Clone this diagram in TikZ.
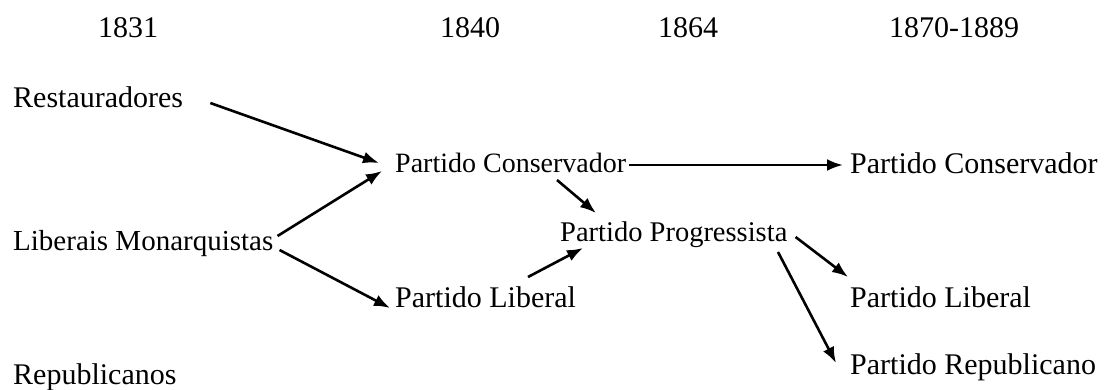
\documentclass[tikz,border=0pt]{standalone}
\usepackage{fontspec}
\setmainfont{Liberation Serif}
\usetikzlibrary{arrows.meta}

\begin{document}
\begin{tikzpicture}[
    x=1pt, y=-1pt,
    year/.style={
        inner sep=0pt,
        anchor=base,
        font=\fontsize{30}{32}\selectfont,
    },
    party/.style={
        inner sep=0pt,
        anchor=base west,
        font=\fontsize{#1}{32}\selectfont,
    },
    party/.default=30,
    link/.style={
        line width=2.6pt,
        -{Latex[length=16pt,width=12pt]},
    },
]
\useasboundingbox (0,0) rectangle (1114,389);

% years
\node[year] (Y1) at (128, 37) {1831};
\node[year] (Y2) at (470, 37) {1840};
\node[year] (Y3) at (688, 37) {1864};
\node[year] (Y4) at (954, 37) {1870-1889};

% 1831
\node[party] (Rest) at (13, 107) {Restauradores};
\node[party=29] (LibMon) at (13, 250) {Liberais Monarquistas};
\node[party] (Rep) at (13, 384) {Republicanos};

% 1840
\node[party=28] (Cons1) at (395, 172) {Partido Conservador};
\node[party] (Lib1) at (395, 307) {Partido Liberal};

% 1864
\node[party=28.5] (Prog) at (560, 241) {Partido Progressista};

% 1870-1889
\node[party] (Cons2) at (850, 173) {Partido Conservador};
\node[party] (Lib2) at (850, 307) {Partido Liberal};
\node[party] (Rep2) at (850, 374) {Partido Republicano};

\draw[link] ([shift={(27,-4)}]Rest.base east) -- ([shift={(-16,-9)}]Cons1.base west);
\draw[link] ([shift={(4,-14)}]LibMon.base east) -- ([shift={(-13,-1)}]Cons1.base west);
\draw[link] ([shift={(6,0)}]LibMon.base east) -- ([shift={(-5,1)}]Lib1.base west);
\draw[link] ([shift={(3,-7)}]Cons1.base east) -- ([shift={(-7,-8)}]Cons2.base west);
\draw[link] ([shift={(162,8)}]Cons1.base west) -- ([shift={(36,-28)}]Prog.base west);
\draw[link] ([shift={(133,-30)}]Lib1.base west) -- ([shift={(23,7)}]Prog.base west);
\draw[link] ([shift={(8,-4)}]Prog.base east) -- ([shift={(-2,-30)}]Lib2.base west);
\draw[link] ([shift={(218,11)}]Prog.base west) -- ([shift={(-14,-11)}]Rep2.base west);
\end{tikzpicture}
\end{document}
